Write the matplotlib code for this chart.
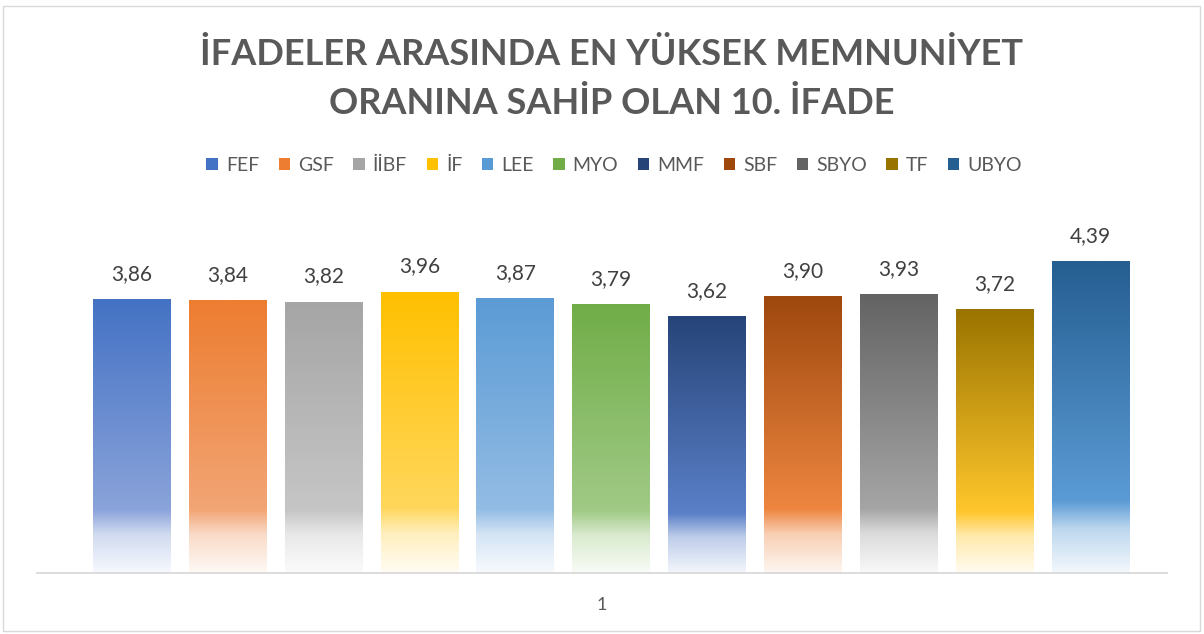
import matplotlib.pyplot as plt
import numpy as np
from matplotlib.colors import LinearSegmentedColormap, to_rgb
from matplotlib.patches import Patch, Rectangle

plt.rcParams['font.family'] = ['Liberation Sans Narrow', 'Lato', 'DejaVu Sans']

# data
units = ["FEF", "GSF", "İİBF", "İF", "LEE", "MYO", "MMF", "SBF", "SBYO", "TF", "UBYO"]
scores = [3.86, 3.84, 3.82, 3.96, 3.87, 3.79, 3.62, 3.90, 3.93, 3.72, 4.39]
group_label = "1"
title = "İFADELER ARASINDA EN YÜKSEK MEMNUNİYET\nORANINA SAHİP OLAN 10. İFADE"

# colours: top of the bar and the colour just before it fades out
top_colors = ["#4472C4", "#ED7D31", "#A5A5A5", "#FFC000", "#5B9BD5", "#70AD47",
              "#264478", "#9E480E", "#636363", "#997300", "#255E91"]
mid_colors = ["#8AA3DA", "#F2A575", "#C6C6C6", "#FFD75C", "#93BCE4", "#A0CA86",
              "#5B80C8", "#EE8640", "#A5A5A5", "#FFC72C", "#5B9BD5"]


def tint(c, amount):
    r = np.array(to_rgb(c))
    return tuple(r + (1 - r) * amount)


fig = plt.figure(figsize=(12.04, 6.34), dpi=100)
ax = fig.add_axes([37 / 1204, 61 / 634, 1130 / 1204, 355 / 634])

x = np.arange(len(units))
bars = ax.bar(x, scores, width=0.81, color='none', edgecolor='none')

grad = np.linspace(0, 1, 256).reshape(-1, 1)
for bar, top, mid in zip(bars, top_colors, mid_colors):
    cmap = LinearSegmentedColormap.from_list(
        "g", [(0.0, tint(mid, 0.93)), (0.14, tint(mid, 0.6)), (0.23, mid), (1.0, top)])
    x0, w, h = bar.get_x(), bar.get_width(), bar.get_height()
    im = ax.imshow(grad, cmap=cmap, origin='lower', aspect='auto',
                   extent=[x0, x0 + w, 0, h], zorder=2)
    im.set_clip_path(bar)

for xi, v in zip(x, scores):
    ax.annotate(f"{v:.2f}".replace(".", ","), (xi, v), xytext=(0, 11),
                textcoords='offset points', ha='center', va='bottom',
                fontsize=15, color='#404040')

ax.set_xlim(-0.99, 10.8)
ax.set_ylim(0, 5)
ax.set_yticks([])
ax.set_xticks([])
for s in ['top', 'right', 'left']:
    ax.spines[s].set_visible(False)
ax.spines['bottom'].set_color('#D9D9D9')
ax.spines['bottom'].set_linewidth(1.3)
ax.text(0.5, -0.09, group_label, transform=ax.transAxes, ha='center', va='center',
        fontsize=13, color='#595959')

fig.suptitle(title, x=0.508, y=0.94, fontsize=26, fontweight='bold', color='#595959',
             linespacing=1.6)

handles = [Patch(facecolor=c, edgecolor='none') for c in top_colors]
fig.legend(handles, units, loc='center', bbox_to_anchor=(0.51, 1 - 165 / 634),
           ncol=len(units), frameon=False, fontsize=14, labelcolor='#595959',
           handlelength=0.6, handleheight=0.6, handletextpad=0.4, columnspacing=1.0)

fig.add_artist(Rectangle((3 / 1204, 3 / 634), 1 - 7 / 1204, 1 - 9 / 634,
                         transform=fig.transFigure, fill=False, ec='#D9D9D9', lw=1))

fig.savefig("out.png", dpi=100)
